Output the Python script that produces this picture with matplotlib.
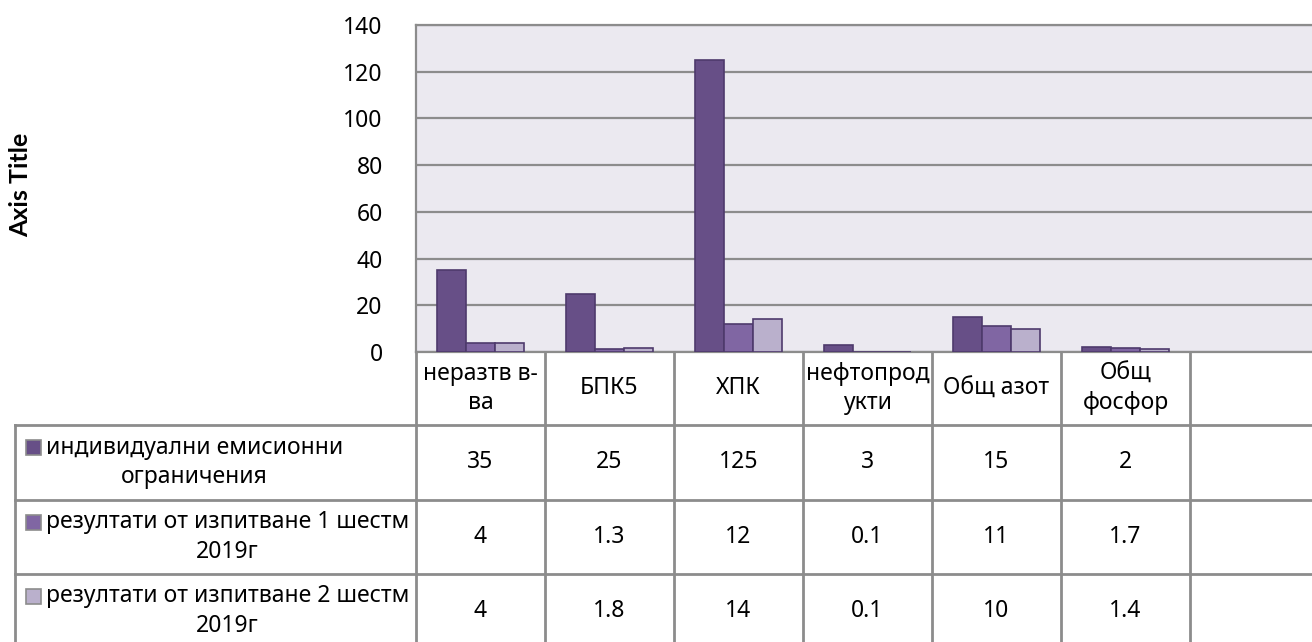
import matplotlib
matplotlib.use("Agg")
import matplotlib.pyplot as plt
import matplotlib.transforms as mtransforms
from matplotlib.lines import Line2D
from matplotlib.patches import Rectangle
import numpy as np

plt.rcParams['font.family'] = ['Noto Sans', 'DejaVu Sans']

# data
categories = ["неразтв в-\nва", "БПК5", "ХПК", "нефтопрод\nукти", "Общ азот", "Общ\nфосфор", ""]
series_names = ["индивидуални емисионни\nограничения",
                "резултати от изпитване 1 шестм\n2019г",
                "резултати от изпитване 2 шестм\n2019г"]
limits = [35, 25, 125, 3, 15, 2]
test_1 = [4, 1.3, 12, 0.1, 11, 1.7]
test_2 = [4, 1.8, 14, 0.1, 10, 1.4]
yticks = [0, 20, 40, 60, 80, 100, 120, 140]

colors = ['#674f87', '#8066a3', '#bab0cc']
edge = '#4e3a6c'
grid_col = '#8c8c8c'
fs = 16.5

W, H = 1312, 642
fig = plt.figure(figsize=(W / 100, H / 100), dpi=100)

def fx(px):
    return px / W

def fy(py):
    return 1 - py / H

# plot area (right edge runs slightly past the image, as in the reference)
left, right, top, bottom = 416, 1319, 25, 352
ax = fig.add_axes([fx(left), fy(bottom), fx(right - left), (bottom - top) / H])
ax.set_facecolor('#ebe9f0')

n = len(categories)
bw = 0.223
all_series = [limits, test_1, test_2]
for k, vals in enumerate(all_series):
    ax.bar(np.arange(len(vals)) + (k - 1) * bw, vals, width=bw,
           color=colors[k], edgecolor=edge, linewidth=1.2, zorder=3)

ax.set_xlim(-0.5, n - 0.5)
ax.set_ylim(0, 140)
ax.set_yticks(yticks)
ax.set_xticks([])
ax.yaxis.grid(True, color=grid_col, linewidth=1.6, zorder=0)
ax.set_axisbelow(True)
ax.tick_params(axis='y', length=0, pad=24, labelsize=fs)
for s in ax.spines.values():
    s.set_color(grid_col)
    s.set_linewidth(1.6)

fig.text(fx(21), fy(185), "Axis Title", rotation=90, fontsize=18,
         fontweight='bold', family=['Lato', 'DejaVu Sans'], ha='center', va='center')

# data table under the plot
bt = mtransforms.blended_transform_factory(ax.transData, fig.transFigure)
row_lines = [425, 500, 574, 648]
table_left = 15
lw = 2.0

# vertical lines between categories
for i in range(n + 1):
    fig.add_artist(Line2D([i - 0.5, i - 0.5], [fy(bottom), fy(H + 10)],
                          transform=bt, color=grid_col, lw=lw, clip_on=False))
# horizontal lines
for ry in row_lines:
    fig.add_artist(Line2D([fx(table_left), 1.0], [fy(ry), fy(ry)],
                          color=grid_col, lw=lw))
fig.add_artist(Line2D([fx(table_left), fx(table_left)], [fy(row_lines[0]), fy(H + 10)],
                      color=grid_col, lw=lw))

# category header
for i, c in enumerate(categories):
    fig.text(i, fy((bottom + row_lines[0]) / 2), c, transform=bt, ha='center',
             va='center', fontsize=fs, linespacing=1.3)

# series rows
for k, (name, vals) in enumerate(zip(series_names, all_series)):
    y0, y1 = row_lines[k], row_lines[k + 1]
    yc = fy((y0 + y1) / 2)
    fig.add_artist(Rectangle((fx(26), fy(y0 + 30)), fx(15), 15 / H,
                             facecolor=colors[k], edgecolor='#8c8c8c', lw=1.2))
    fig.text(fx(46), yc, name, ha='left', va='center', multialignment='center',
             fontsize=fs, linespacing=1.3)
    for i, v in enumerate(vals):
        fig.text(i, yc, f"{v:g}", transform=bt, ha='center', va='center', fontsize=fs)

fig.savefig("out.png", dpi=100)
